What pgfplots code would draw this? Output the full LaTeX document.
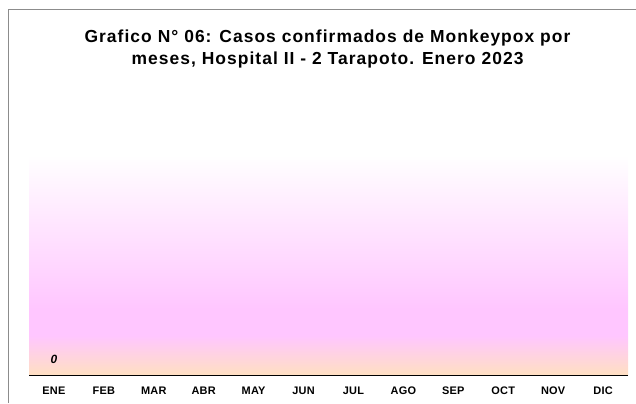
\documentclass[border=0pt]{standalone}
\usepackage{fontspec}
\setmainfont{Liberation Sans}
\newfontfamily\titlefont[LetterSpace=6]{Liberation Sans}
\newfontfamily\tickfont[LetterSpace=2]{Liberation Sans}
\usepackage{pgfplots}
\pgfplotsset{compat=1.18}

\definecolor{bgpeach}{HTML}{FFE0C2}
\definecolor{bgpink}{HTML}{FFC6FF}
\definecolor{framegray}{HTML}{8C8C8C}
% TikZ maps the path box onto the middle 25bp..75bp of the shading
\pgfdeclareverticalshading{bgshade}{100bp}{%
  color(0bp)=(bgpeach); color(25bp)=(bgpeach); color(34bp)=(bgpink);
  color(40bp)=(bgpink); color(75bp)=(white); color(100bp)=(white)}

\begin{document}
\begin{tikzpicture}[x=1bp,y=1bp]
  \useasboundingbox (0,0) rectangle (636,403);
  % chart frame (cropped at right and bottom)
  \draw[framegray, line width=0.8bp] (8,0) -- (8,394) -- (636,394);
  % title (anchor base = baseline of last line)
  \node[font=\titlefont\fontsize{17.5}{21.6}\selectfont\bfseries, align=center, anchor=base]
    at (327.5,338.7) {Grafico N° 06: Casos confirmados de Monkeypox por\\meses, Hospital II - 2 Tarapoto. Enero 2023};
  \begin{axis}[
      at={(29bp,28bp)}, anchor=south west,
      width=599bp, height=220bp, scale only axis,
      xmin=-0.5, xmax=11.5, ymin=0, ymax=1,
      axis y line=none,
      axis x line*=bottom,
      x axis line style={black, line width=0.9bp, -},
      axis background/.style={shading=bgshade},
      xtick={0,...,11},
      xticklabels={ENE,FEB,MAR,ABR,MAY,JUN,JUL,AGO,SEP,OCT,NOV,DIC},
      major tick length=0pt,
      xticklabel style={font=\tickfont\fontsize{11}{13}\selectfont\bfseries, yshift=-8bp},
      ybar, bar width=30bp,
      nodes near coords,
      /pgf/number format/assume math mode=true,
      every node near coord/.append style={font=\fontsize{12}{14}\selectfont\bfseries\itshape, yshift=7.5bp},
      clip=false,
    ]
    \addplot[draw=none, fill=none] coordinates {(0,0)};
  \end{axis}
\end{tikzpicture}
\end{document}
